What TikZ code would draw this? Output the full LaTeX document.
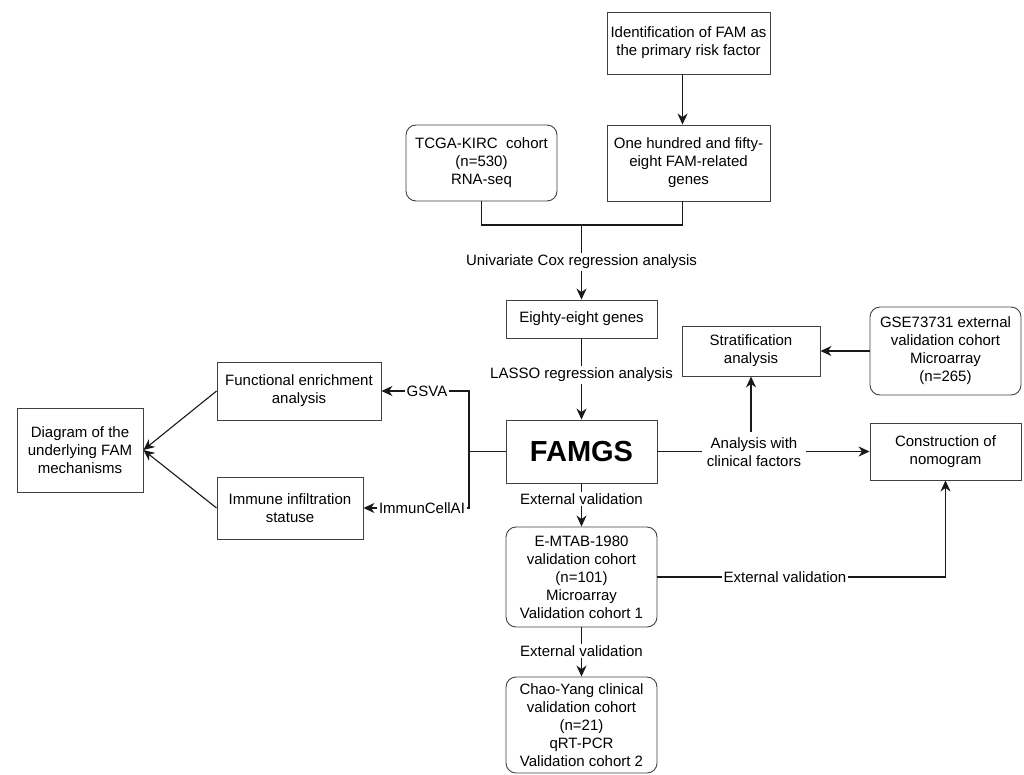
\documentclass[tikz,border=0pt]{standalone}
\usepackage{fontspec}
\setmainfont{Liberation Sans}
\usetikzlibrary{arrows.meta,calc}
\newcommand{\fsz}{\fontsize{15}{18}\selectfont}
\begin{document}
\begin{tikzpicture}[x=1pt,y=-1pt,
  box/.style={draw=black!75, line width=0.9pt, align=center, inner sep=2pt, font=\fsz},
  rbox/.style={box, rounded corners=10pt},
  line/.style={line width=1.1pt, black!90},
  conn/.style={line, -{Stealth[length=11pt,width=10pt,inset=3.5pt]}},
  lab/.style={fill=white, inner sep=1.5pt, align=center, font=\fsz}]
\useasboundingbox[fill=white] (0,0) rectangle (1024,774);
% boxes
\node[box, minimum width=163, minimum height=62] (ident) at (688.5,43) {Identification of FAM as\\the primary risk factor};
\node[box, minimum width=163, minimum height=76] (hundred) at (688.5,163) {One hundred and fifty-\\eight FAM-related\\genes};
\node[rbox, minimum width=151, minimum height=76] (tcga) at (481.5,163) {TCGA-KIRC\ \ cohort\\(n=530)\\RNA-seq};
\node[box, minimum width=151, minimum height=38] (eighty) at (581.5,319) {Eighty-eight genes};
\node[box, minimum width=151, minimum height=63, font=\fontsize{29}{32}\selectfont\bfseries] (famgs) at (581.5,451.5) {FAMGS};
\node[box, minimum width=138, minimum height=50] (strat) at (751,351) {Stratification\\analysis};
\node[rbox, minimum width=151, minimum height=88] (gse) at (945.5,351) {GSE73731 external\\validation cohort\\Microarray\\(n=265)};
\node[box, minimum width=151, minimum height=57] (constr) at (945.5,451.5) {Construction of\\nomogram};
\node[box, minimum width=126, minimum height=84] (diag) at (80,450) {Diagram of the\\underlying FAM\\mechanisms};
\node[box, minimum width=164, minimum height=58] (func) at (299,391) {Functional enrichment\\analysis};
\node[box, minimum width=146, minimum height=62] (immune) at (290,508) {Immune infiltration\\statuse};
\node[rbox, minimum width=151, minimum height=100] (emtab) at (581.5,577) {E-MTAB-1980\\validation cohort\\(n=101)\\Microarray\\Validation cohort 1};
\node[rbox, minimum width=151, minimum height=96] (chao) at (581.5,725) {Chao-Yang clinical\\validation cohort\\(n=21)\\qRT-PCR\\Validation cohort 2};
% labels
\node[lab] (univ) at (581.5,262) {Univariate Cox regression analysis};
\node[lab] (lasso) at (581.5,375) {LASSO regression analysis};
\node[lab] (ext1) at (581.5,499) {External validation};
\node[lab] (ext2) at (581.5,651) {External validation};
\node[lab] (ext3) at (785,577) {External validation};
\node[lab, inner sep=5pt] (clin) at (754,452) {Analysis with\\clinical factors};
\node[lab] (gsva) at (427,391) {GSVA};
\node[lab] (imm) at (422,508) {ImmunCellAI};
\coordinate (j1) at (581.5,225);
\coordinate (jl) at (469,451.5);
% connectors
\draw[conn] ([xshift=-6]ident.south) -- ([xshift=-6]hundred.north);
\draw[line] (tcga.south) |- (j1) -| ([xshift=-6]hundred.south);
\draw[line] (j1) -- (univ);
\draw[conn] (univ) -- (eighty);
\draw[line] (eighty) -- (lasso);
\draw[conn] (lasso) -- (famgs);
\draw[line] (famgs) -- (ext1);
\draw[conn] (ext1) -- (emtab);
\draw[line] (emtab) -- (ext2);
\draw[conn] (ext2) -- (chao);
\draw[line] (emtab.east) -- (ext3.west);
\draw[conn] (ext3.east) -| (constr.south);
\draw[line] (famgs.east) -- (famgs.east -| clin.west);
\draw[conn] (clin.east |- constr.west) -- (constr.west);
\draw[conn] (strat.south |- clin.north) -- (strat.south);
\draw[conn] (gse.west) -- (strat.east);
\draw[line] (famgs.west) -- (jl);
\draw[line] (gsva.east) -| (jl) |- (imm.east);
\draw[conn] (gsva.west) -- (func.east);
\draw[conn] (imm.west) -- (immune.east);
\draw[conn] (func.west) -- (diag.east);
\draw[conn] (immune.west) -- (diag.east);
\end{tikzpicture}
\end{document}
